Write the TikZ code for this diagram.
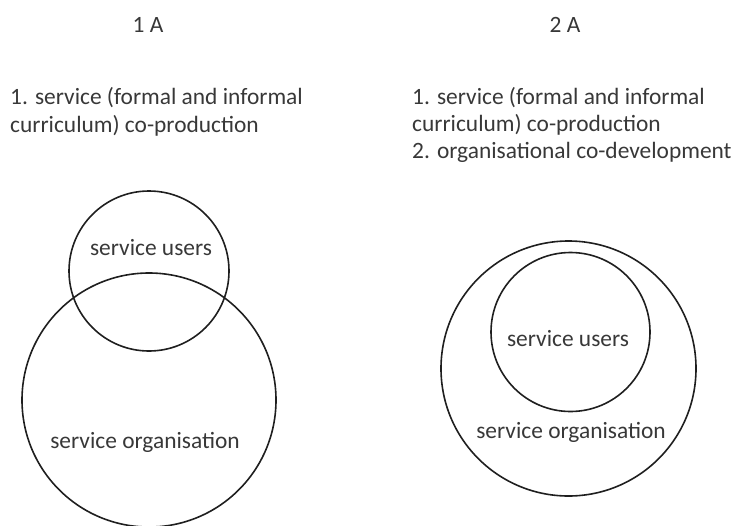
\documentclass[tikz,border=0pt]{standalone}
\usepackage{fontspec}
\setmainfont{Carlito}
\begin{document}
\begin{tikzpicture}[x=1pt,y=-1pt,
  txt/.style={inner sep=0pt,text=black!78,font=\fontsize{23.4}{28}\selectfont},
  ring/.style={draw=black!88,line width=1.6pt,circle,inner sep=0pt}]
\useasboundingbox (0,0) rectangle (735,525);
% left panel
\node[txt,anchor=base] (t1) at (148,32) {1 A};
\node[txt,anchor=base west] (l1a) at (10,104) {1. service (formal and informal};
\node[txt,anchor=base west] (l1b) at (10,132) {curriculum) co-production};
\node[ring,minimum size=160pt] (su1) at (149,271) {};
\node[ring,minimum size=254pt] (so1) at (149,400) {};
\node[txt,anchor=base] (su1t) at (151,255) {service users};
\node[txt,anchor=base] (so1t) at (145,448) {service organisation};
% right panel
\node[txt,anchor=base] (t2) at (565,32) {2 A};
\node[txt,anchor=base west] (l2a) at (412,104) {1. service (formal and informal};
\node[txt,anchor=base west] (l2b) at (412,131) {curriculum) co-production};
\node[txt,anchor=base west] (l2c) at (412,158) {2. organisational co-development};
\node[ring,minimum size=255pt] (so2) at (568.5,368.5) {};
\node[ring,minimum size=159pt] (su2) at (570.5,332) {};
\node[txt,anchor=base] (su2t) at (568,346) {service users};
\node[txt,anchor=base] (so2t) at (571,438) {service organisation};
\end{tikzpicture}
\end{document}
